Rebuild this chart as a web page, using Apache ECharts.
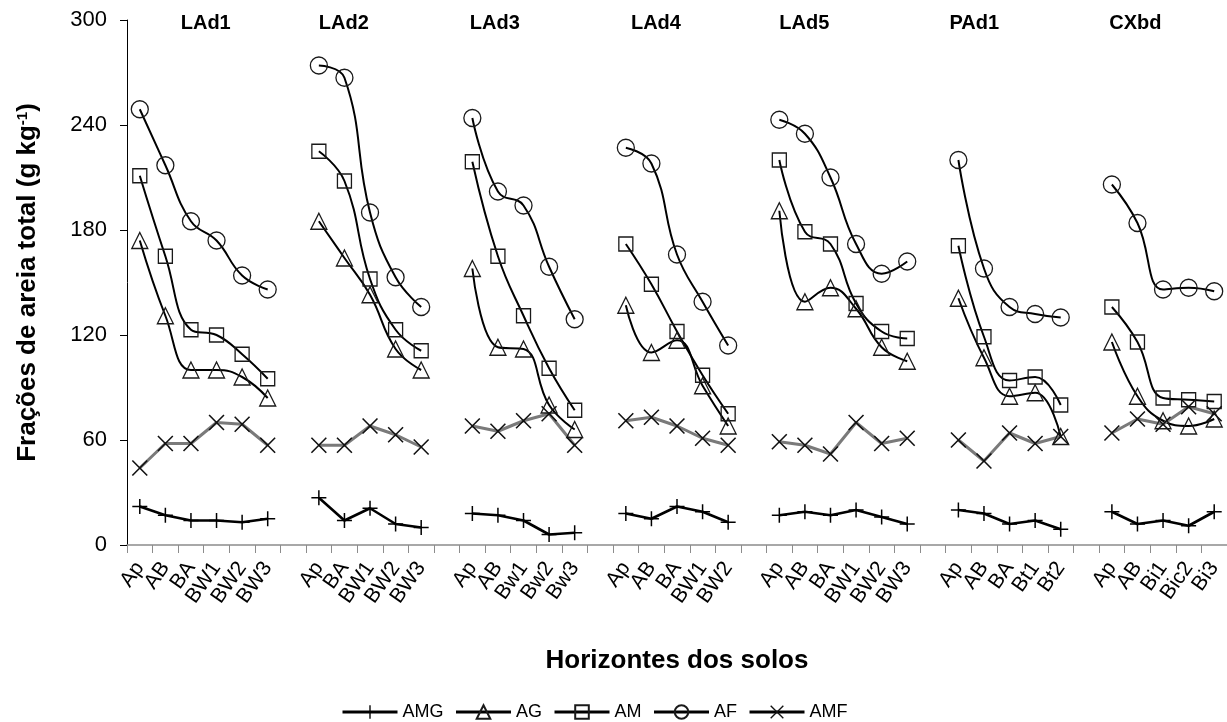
<!DOCTYPE html>
<html>
<head>
<meta charset="utf-8">
<title>Frações de areia total</title>
<script src="https://cdn.jsdelivr.net/npm/echarts@6/dist/echarts.min.js"></script>
<style>
  html, body { margin: 0; padding: 0; background: #fff; }
  #chart { width: 1227px; height: 722px; }
</style>
</head>
<body>
<div id="chart"></div>
<script>
// Soil profiles and their horizons (x categories)
const profiles = ['LAd1', 'LAd2', 'LAd3', 'LAd4', 'LAd5', 'PAd1', 'CXbd'];
const horizons = [
  ['Ap', 'AB', 'BA', 'BW1', 'BW2', 'BW3'],
  ['Ap', 'BA', 'BW1', 'BW2', 'BW3'],
  ['Ap', 'AB', 'Bw1', 'Bw2', 'Bw3'],
  ['Ap', 'AB', 'BA', 'BW1', 'BW2'],
  ['Ap', 'AB', 'BA', 'BW1', 'BW2', 'BW3'],
  ['Ap', 'AB', 'BA', 'Bt1', 'Bt2'],
  ['Ap', 'AB', 'Bi1', 'Bic2', 'Bi3']
];

// Sand fractions (g kg-1), one inner array per profile
const AMG = [
  [22, 17, 14, 14, 13, 15],
  [27, 14, 21, 12, 10],
  [18, 17, 14, 6, 7],
  [18, 15, 22, 19, 13],
  [17, 19, 17, 20, 16, 12],
  [20, 18, 12, 14, 9],
  [19, 12, 14, 11, 19]
];
const AG = [
  [174, 131, 100, 100, 96, 84],
  [185, 164, 143, 112, 100],
  [158, 113, 112, 80, 66],
  [137, 110, 117, 91, 68],
  [191, 139, 147, 135, 113, 105],
  [141, 107, 85, 87, 62],
  [116, 85, 71, 68, 72]
];
const AM = [
  [211, 165, 123, 120, 109, 95],
  [225, 208, 152, 123, 111],
  [219, 165, 131, 101, 77],
  [172, 149, 122, 97, 75],
  [220, 179, 172, 138, 122, 118],
  [171, 119, 94, 96, 80],
  [136, 116, 84, 83, 82]
];
const AF = [
  [249, 217, 185, 174, 154, 146],
  [274, 267, 190, 153, 136],
  [244, 202, 194, 159, 129],
  [227, 218, 166, 139, 114],
  [243, 235, 210, 172, 155, 162],
  [220, 158, 136, 132, 130],
  [206, 184, 146, 147, 145]
];
const AMF = [
  [44, 58, 58, 70, 69, 57],
  [57, 57, 68, 63, 56],
  [68, 65, 71, 75, 57],
  [71, 73, 68, 61, 57],
  [59, 57, 52, 70, 58, 61],
  [60, 48, 64, 58, 62],
  [64, 72, 69, 79, 75]
];

const yTicks = [0, 60, 120, 180, 240, 300];

// ---- layout / style ----
const FONT = '"Liberation Sans", Arial, Helvetica, sans-serif';
// where each profile title starts, in category steps from its first horizon
const titleShift = [1.6, 0, -0.1, 0.2, 0, -0.35, -0.1];

const PLUS = 'path://M9,0H11V20H9Z M0,9H20V11H0Z';
const CROSS = 'path://M0,1.4L1.4,0L20,18.6L18.6,20Z M18.6,0L20,1.4L1.4,20L0,18.6Z';

// Build a single category axis: profiles separated by one empty slot
const keys = [];
const labels = [];
const groupStart = [];
profiles.forEach((p, gi) => {
  if (gi > 0) { keys.push('gap' + gi); labels.push(''); }
  groupStart.push(keys.length);
  horizons[gi].forEach(h => { keys.push(p + ':' + h); labels.push(h); });
});

function flatten(nested) {
  const out = [];
  nested.forEach((arr, gi) => {
    if (gi > 0) out.push(null);
    arr.forEach(v => out.push(v));
  });
  return out;
}

const hollow = { color: 'rgba(0,0,0,0)', borderColor: '#1a1a1a', borderWidth: 1.3 };

function lineSeries(name, nested, cfg) {
  return Object.assign({
    name: name,
    type: 'line',
    data: flatten(nested),
    connectNulls: false,
    showAllSymbol: true,
    symbolKeepAspect: true,
    emphasis: { disabled: true },
    silent: true
  }, cfg);
}

const series = [
  lineSeries('AMG', AMG, {
    symbol: PLUS, symbolSize: 15,
    lineStyle: { color: '#000', width: 2.6 },
    itemStyle: { color: '#000' }
  }),
  lineSeries('AG', AG, {
    smooth: 0.45, symbol: 'triangle', symbolSize: 16,
    lineStyle: { color: '#000', width: 2 },
    itemStyle: hollow
  }),
  lineSeries('AM', AM, {
    smooth: 0.45, symbol: 'rect', symbolSize: 14,
    lineStyle: { color: '#000', width: 2 },
    itemStyle: hollow
  }),
  lineSeries('AF', AF, {
    smooth: 0.45, symbol: 'circle', symbolSize: 17,
    lineStyle: { color: '#000', width: 2 },
    itemStyle: hollow
  }),
  lineSeries('AMF', AMF, {
    symbol: CROSS, symbolSize: 16,
    lineStyle: { color: '#7a7a7a', width: 3 },
    itemStyle: { color: '#111' }
  })
];

const chart = echarts.init(document.getElementById('chart'), null, { renderer: 'canvas' });

const option = {
  animation: false,
  backgroundColor: '#fff',
  textStyle: { fontFamily: FONT, color: '#000' },
  grid: { left: 127, right: 0, top: 20, bottom: 177, containLabel: false },
  legend: {
    data: ['AMG', 'AG', 'AM', 'AF', 'AMF'],
    left: 336, top: 698,
    itemWidth: 55, itemHeight: 17, itemGap: 11,
    selectedMode: false,
    lineStyle: { color: '#000', width: 3 },
    textStyle: { fontFamily: FONT, fontSize: 18, color: '#000', width: 70 }
  },
  xAxis: {
    type: 'category',
    data: keys,
    boundaryGap: true,
    axisLine: { lineStyle: { color: '#8c8c8c', width: 1.5 } },
    axisTick: { show: true, interval: 0, length: 8, lineStyle: { color: '#8c8c8c', width: 1 } },
    axisLabel: {
      interval: 0, rotate: 55, margin: 19,
      fontFamily: FONT, fontSize: 21, color: '#000',
      formatter: (v, i) => labels[i]
    },
    splitLine: { show: false },
    name: 'Horizontes dos solos',
    nameLocation: 'middle',
    nameGap: 103,
    nameTextStyle: { fontFamily: FONT, fontSize: 26, fontWeight: 'bold', color: '#000' }
  },
  yAxis: {
    type: 'value',
    min: yTicks[0], max: yTicks[yTicks.length - 1], interval: yTicks[1] - yTicks[0],
    axisLine: { show: true, lineStyle: { color: '#000', width: 1 } },
    axisTick: { show: true, length: 7, lineStyle: { color: '#000' } },
    splitLine: { show: false },
    axisLabel: { fontFamily: FONT, fontSize: 22, color: '#000', margin: 20 },
    name: 'Frações de areia total (g kg{sup|-1})',
    nameLocation: 'middle',
    nameGap: 86,
    nameTextStyle: {
      fontFamily: FONT, fontSize: 26, fontWeight: 'bold', color: '#000',
      rich: {
        sup: { fontFamily: FONT, fontSize: 15, fontWeight: 'bold', color: '#000', verticalAlign: 'top', padding: [0, 0, 10, 0] }
      }
    }
  },
  series: series
};

chart.setOption(option);

// Profile titles above each group, placed through the category scale
const x0 = chart.convertToPixel({ xAxisIndex: 0 }, 0);
const step = chart.convertToPixel({ xAxisIndex: 0 }, 1) - x0;
chart.setOption({
  graphic: profiles.map((p, gi) => ({
    type: 'text',
    silent: true,
    x: chart.convertToPixel({ xAxisIndex: 0 }, groupStart[gi]) + titleShift[gi] * step,
    y: 23,
    style: {
      text: p,
      fontFamily: FONT, fontSize: 20, fontWeight: 'bold', fill: '#000',
      textAlign: 'left', textVerticalAlign: 'middle'
    }
  }))
});
</script>
</body>
</html>
